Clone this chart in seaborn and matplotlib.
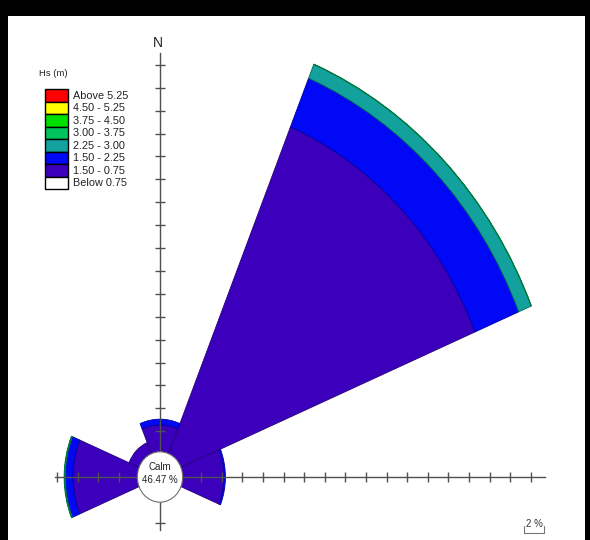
import numpy as np
import matplotlib
matplotlib.use("Agg")
import matplotlib.pyplot as plt
from matplotlib.patches import Patch, Ellipse, Rectangle
import seaborn as sns

# direction sectors (degrees clockwise from north) and wave height bands (% frequency)
directions = ["N", "NE", "E", "W", "NW"]
dir_angles = [0, 45, 90, 270, 315]
band_labels = ["Below 0.75", "1.50 - 0.75", "1.50 - 2.25", "2.25 - 3.00",
               "3.00 - 3.75", "3.75 - 4.50", "4.50 - 5.25", "Above 5.25"]
band_colors = ["#ffffff", "#3c00bd", "#0008f5", "#12a19c",
               "#00c45c", "#00e000", "#ffff00", "#ff0000"]
band_edges = ["#808080", "#24007a", "#0000a0", "#006a55",
              "#007a3a", "#008a00", "#a0a000", "#a00000"]

freq_below_075 = [0.0, 0.0, 0.0, 0.0, 0.0]
freq_075_150 = [2.35, 30.9, 4.0, 6.25, 1.05]
freq_150_225 = [0.5, 4.6, 0.15, 0.75, 0.0]
freq_225_300 = [0.0, 1.3, 0.0, 0.06, 0.0]
freq_300_375 = [0.0, 0.04, 0.0, 0.05, 0.0]
freq_375_450 = [0.0, 0.0, 0.0, 0.0, 0.0]
freq_450_525 = [0.0, 0.0, 0.0, 0.0, 0.0]
freq_above_525 = [0.0, 0.0, 0.0, 0.0, 0.0]
band_freqs = [freq_below_075, freq_075_150, freq_150_225, freq_225_300,
              freq_300_375, freq_375_450, freq_450_525, freq_above_525]

calm_pct = 46.47
calm_radius = 2.2
scale_pct = 2
tick_step = 2

sns.set_style("white")
plt.rcParams["font.family"] = ["Liberation Sans", "DejaVu Sans"]

fig = plt.figure(figsize=(5.9, 5.4), dpi=100)
fig.patch.set_facecolor("black")
fig.add_artist(Rectangle((8 / 590, 0), (585 - 8) / 590, (540 - 16) / 540,
                         transform=fig.transFigure, facecolor="white",
                         edgecolor="none", zorder=-5))

# both axes share one box; centre of the rose at pixel (160, 477)
rmax = 40
rect = [(160 - rmax * 10.3) / 590, (63 - rmax * 11.45) / 540,
        2 * rmax * 10.3 / 590, 2 * rmax * 11.45 / 540]

ax = fig.add_axes(rect, projection="polar")
ax.set_theta_zero_location("N")
ax.set_theta_direction(-1)
ax.set_rlim(0, rmax)
ax.set_aspect("auto")
ax.axis("off")

theta = np.deg2rad(dir_angles)
width = np.deg2rad(45)
bottom = np.full(len(directions), calm_radius)
for vals, col, ec in zip(band_freqs, band_colors, band_edges):
    vals = np.array(vals)
    mask = vals > 0
    if mask.any():
        ax.bar(theta[mask], vals[mask], width=width, bottom=bottom[mask],
               color=col, edgecolor=ec, linewidth=0.6)
    bottom = bottom + vals

# axis cross with ticks
ax2 = fig.add_axes(rect)
ax2.patch.set_alpha(0)
ax2.set_xlim(-rmax, rmax)
ax2.set_ylim(-rmax, rmax)
for side in ["top", "right"]:
    ax2.spines[side].set_visible(False)
for side in ["left", "bottom"]:
    ax2.spines[side].set_position(("data", 0))
    ax2.spines[side].set_color("#505050")
    ax2.spines[side].set_linewidth(1.0)
ax2.spines["bottom"].set_bounds(-10.2, 37.4)
ax2.spines["left"].set_bounds(-4.6, 37.0)
ax2.set_xticks([t for t in np.arange(-10, 37, tick_step) if t != 0])
ax2.set_yticks([t for t in np.arange(-4, 37, tick_step) if t != 0])
ax2.tick_params(direction="inout", length=7, width=1, color="#505050",
                labelbottom=False, labelleft=False, bottom=True, left=True)

ax2.add_patch(Ellipse((0, 0), 2 * calm_radius, 2 * calm_radius,
                      facecolor="white", edgecolor="#707070", linewidth=0.8,
                      zorder=3))
ax2.text(0, 0.3, f"Calm\n{calm_pct:.2f} %", ha="center", va="center",
         fontsize=7, color="#222222", linespacing=1.45, zorder=4)
ax2.text(-0.2, 37.9, "N", ha="center", va="center", fontsize=10,
         color="#222222")

# scale bar
sx0, sy = 35.3, -4.9
ax2.plot([sx0, sx0, sx0 + scale_pct, sx0 + scale_pct],
         [sy + 0.6, sy, sy, sy + 0.6], color="#777777", linewidth=0.8)
ax2.text(sx0 + scale_pct / 2 + 0.1, sy + 0.35, f"{scale_pct} %",
         ha="center", va="bottom", fontsize=7, color="#333333")

# legend, highest band on top, swatches stacked without gaps
fig.text(39 / 590, 1 - 73 / 540, "Hs (m)", ha="left", va="center",
         fontsize=6.8, color="#222222")
handles = [Patch(facecolor=c, edgecolor="black", linewidth=1.0)
           for c in band_colors[::-1]]
leg = fig.legend(handles, band_labels[::-1],
                 loc="upper left", bbox_to_anchor=(45 / 590, 1 - 89 / 540),
                 frameon=False, fontsize=7.8,
                 handlelength=2.1, handleheight=1.4, labelspacing=0.0,
                 handletextpad=0.45, borderpad=0, borderaxespad=0)
for t in leg.get_texts():
    t.set_color("#222222")

fig.savefig("out.png", dpi=100, facecolor=fig.get_facecolor())
